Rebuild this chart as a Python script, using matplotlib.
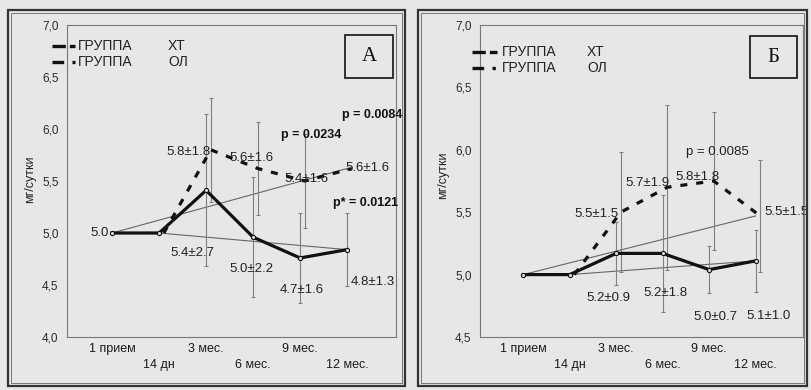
import numpy as np
import matplotlib
matplotlib.use("Agg")
import matplotlib.pyplot as plt
from matplotlib.lines import Line2D
from matplotlib.patches import Rectangle

plt.rcParams['font.family'] = ['Liberation Sans', 'DejaVu Sans']

# ---------------- data ----------------
categories = ["1 прием", "14 дн", "3 мес.", "6 мес.", "9 мес.", "12 мес."]
series_names = ["ХТ", "ОЛ"]
legend_prefix = "ГРУППА"
y_label = "мг/сутки"

# Panel A
a_xt = [5.0, 5.0, 5.41, 4.96, 4.76, 4.84]
a_ol = [5.0, 5.0, 5.80, 5.62, 5.50, 5.62]
a_xt_err = [np.nan, np.nan, 0.73, 0.58, 0.43, 0.35]
a_ol_err = [np.nan, np.nan, 0.50, 0.45, 0.45, np.nan]
a_xt_labels = ["5.0", None, "5.4±2.7", "5.0±2.2", "4.7±1.6", "4.8±1.3"]
a_ol_labels = [None, None, "5.8±1.8", "5.6±1.6", "5.4±1.6", "5.6±1.6"]
a_pvalues = ["p = 0.0084", "p = 0.0234", "p* = 0.0121"]
a_yticks = [4.0, 4.5, 5.0, 5.5, 6.0, 6.5, 7.0]
a_ytick_labels = ["4,0", "4,5", "5,0", "5,5", "6,0", "6,5", "7,0"]

# Panel Б
b_xt = [5.0, 5.0, 5.17, 5.17, 5.04, 5.11]
b_ol = [5.0, 5.0, 5.50, 5.70, 5.75, 5.47]
b_xt_err = [np.nan, np.nan, 0.25, 0.47, 0.19, 0.25]
b_ol_err = [np.nan, np.nan, 0.48, 0.66, 0.55, 0.45]
b_xt_labels = [None, None, "5.2±0.9", "5.2±1.8", "5.0±0.7", "5.1±1.0"]
b_ol_labels = [None, None, "5.5±1.5", "5.7±1.9", "5.8±1.8", "5.5±1.5"]
b_pvalues = ["p = 0.0085"]
b_yticks = [4.5, 5.0, 5.5, 6.0, 6.5, 7.0]
b_ytick_labels = ["4,5", "5,0", "5,5", "6,0", "6,5", "7,0"]

# ---------------- layout ----------------
W, H = 812, 390
BG = "#e7e7e7"
fig = plt.figure(figsize=(W / 100, H / 100), dpi=100, facecolor=BG)


def fx(x):
    return x / W


def fy(y):
    return 1 - y / H


def make_axes(l, r, t, b):
    return fig.add_axes([fx(l), fy(b), fx(r) - fx(l), fy(t) - fy(b)])


def panel(ax, xt, ol, xt_err, ol_err, xt_lab, ol_lab, yticks, ylabs, xlim,
          xt_offsets, ol_offsets):
    x = np.arange(len(categories))
    x_ol = x + 0.1
    ax.set_facecolor(BG)
    ax.set_xlim(*xlim)
    ax.set_ylim(yticks[0], yticks[-1])
    ax.set_yticks(yticks)
    ax.set_yticklabels(ylabs, fontsize=8.5, color="#2a2a2a")
    ax.set_xticks(x)
    ax.set_xticklabels(categories, fontsize=9, color="#1a1a1a")
    ax.tick_params(axis="both", length=0)
    ax.tick_params(axis="y", pad=6)
    for i, t in enumerate(ax.xaxis.get_major_ticks()):
        t.set_pad(4 if i % 2 == 0 else 16)
    for s in ax.spines.values():
        s.set_color("#777777")
        s.set_linewidth(0.8)

    # trend lines (first -> last)
    ax.plot([x[0], x[-1]], [ol[0], ol[-1]], color="#666666", lw=0.8, zorder=2)
    ax.plot([x[1], x[-1]], [xt[1], xt[-1]], color="#666666", lw=0.8, zorder=2)

    # error bars
    ax.errorbar(x, xt, yerr=xt_err, fmt="none", ecolor="#808080",
                elinewidth=0.8, capsize=1.5, capthick=0.8, zorder=2)
    ax.errorbar(x_ol, ol, yerr=ol_err, fmt="none", ecolor="#808080",
                elinewidth=0.8, capsize=1.5, capthick=0.8, zorder=2)

    # series
    ax.plot(x, xt, color="#111111", lw=2.3, solid_joinstyle="miter", zorder=4,
            marker="o", markersize=3, markerfacecolor="#dddddd",
            markeredgecolor="#111111", markeredgewidth=0.8)
    ax.plot(x_ol[1:], ol[1:], color="#111111", lw=2.3, zorder=3,
            linestyle=(0, (2.2, 2.8)))

    for i, lab in enumerate(xt_lab):
        if lab:
            ax.annotate(lab, (x[i], xt[i]), xytext=xt_offsets[i],
                        textcoords="offset pixels", ha="center", va="center",
                        fontsize=9.5, color="#222222", zorder=5)
    for i, lab in enumerate(ol_lab):
        if lab:
            ax.annotate(lab, (x_ol[i], ol[i]), xytext=ol_offsets[i],
                        textcoords="offset pixels", ha="center", va="center",
                        fontsize=9.5, color="#222222", zorder=5)


axA = make_axes(67, 396, 25, 337)
panel(axA, a_xt, a_ol, a_xt_err, a_ol_err, a_xt_labels, a_ol_labels,
      a_yticks, a_ytick_labels, (-0.96, 6.04),
      [(-13, 0), None, (-14, -63), (-2, -32), (2, -32), (26, -32)],
      [None, None, (-22, -2), (-6, 11), (2, 2), (16, 1)])

axB = make_axes(480, 803, 25, 337)
panel(axB, b_xt, b_ol, b_xt_err, b_ol_err, b_xt_labels, b_ol_labels,
      b_yticks, b_ytick_labels, (-0.93, 6.02),
      [None, None, (-8, -45), (3, -40), (6, -47), (13, -55)],
      [None, None, (-24, -2), (-20, 4), (-16, 4), (26, 4)])

# y labels
fig.text(fx(30), fy(179), y_label, rotation=90, ha="center", va="center",
         fontsize=9, color="#222222")
fig.text(fx(443), fy(175), y_label, rotation=90, ha="center", va="center",
         fontsize=9, color="#222222")

# p-values
fig.text(fx(372), fy(115), a_pvalues[0], ha="center", va="center",
         fontsize=9, fontweight="bold", color="#111111")
fig.text(fx(311), fy(135), a_pvalues[1], ha="center", va="center",
         fontsize=9, fontweight="bold", color="#111111")
fig.text(fx(366), fy(203), a_pvalues[2], ha="center", va="center",
         fontsize=9, fontweight="bold", color="#111111")
fig.text(fx(717), fy(152), b_pvalues[0], ha="center", va="center",
         fontsize=9.5, color="#222222")


# legends
def legend(sx0, sx1, tx0, tx1, y0, y1):
    fig.add_artist(Line2D([fx(sx0), fx(sx1)], [fy(y0), fy(y0)], color="#111111",
                          lw=2.4, linestyle=(0, (4, 1.2))))
    fig.add_artist(Line2D([fx(sx0), fx(sx1)], [fy(y1), fy(y1)], color="#111111",
                          lw=2.4, linestyle=(0, (3.5, 2.5, 1, 2.5))))
    for yy, nm in ((y0, series_names[0]), (y1, series_names[1])):
        fig.text(fx(tx0), fy(yy), legend_prefix, ha="left", va="center",
                 fontsize=10, color="#222222")
        fig.text(fx(tx1), fy(yy), nm, ha="left", va="center",
                 fontsize=10, color="#222222")


legend(52, 75, 78, 168, 46, 62)
legend(472, 497, 502, 587, 52, 68)

# letter boxes
for (l, t, r, b), letter in (((345, 35, 393, 78), "А"), ((750, 36, 797, 78), "Б")):
    fig.add_artist(Rectangle((fx(l), fy(b)), fx(r) - fx(l), fy(t) - fy(b),
                             transform=fig.transFigure, fill=False,
                             edgecolor="#222222", lw=1.3))
    fig.text(fx((l + r) / 2), fy((t + b) / 2), letter, ha="center", va="center",
             fontsize=15, family=["Liberation Serif", "DejaVu Serif"],
             color="#111111")

# panel frames (double line)
for (l, t, r, b) in ((8, 10, 405, 386), (418, 10, 807, 386)):
    fig.add_artist(Rectangle((fx(l), fy(b)), fx(r) - fx(l), fy(t) - fy(b),
                             transform=fig.transFigure, fill=False,
                             edgecolor="#333333", lw=1.6))
    fig.add_artist(Rectangle((fx(l + 3), fy(b - 3)), fx(r - l - 6), fy(t + 3) - fy(b - 3),
                             transform=fig.transFigure, fill=False,
                             edgecolor="#777777", lw=0.7))

fig.savefig("out.png", dpi=100, facecolor=BG)
